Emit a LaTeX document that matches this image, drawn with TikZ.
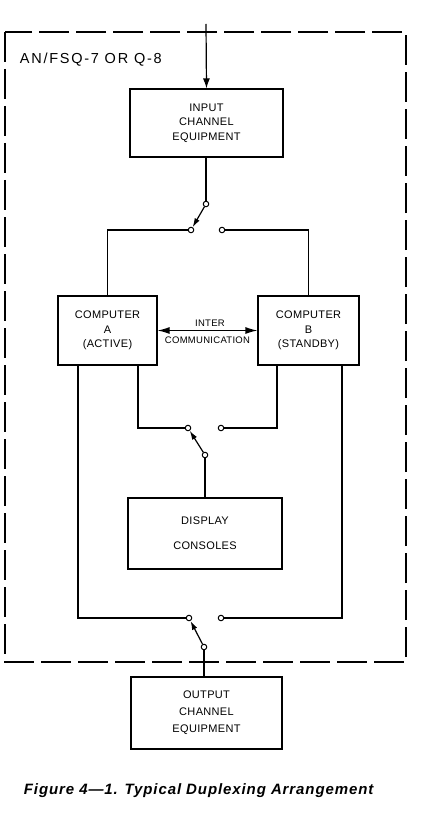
\documentclass[tikz,border=0pt]{standalone}
\usepackage{fontspec}
\setmainfont{Liberation Sans}
\newfontfamily\blokfont[LetterSpace=3]{Liberation Sans}
\newfontfamily\labelfont[LetterSpace=12]{Liberation Sans}
\newfontfamily\judulfont[LetterSpace=6]{Liberation Sans}
\usetikzlibrary{arrows.meta}
\begin{document}
\begin{tikzpicture}[x=1pt,y=-1pt,line width=1.2pt,
  blok/.style={draw, align=center, inner sep=0pt, font=\blokfont\fontsize{11}{14.5}\selectfont},
  kontak/.style={draw, circle, fill=white, inner sep=0pt, minimum size=5.5pt, line width=1pt},
  panah/.style={-{Latex[length=9pt,width=5.5pt]}},
  panahbesar/.style={-{Latex[length=10pt,width=7pt]}}]
  \useasboundingbox (0,0) rectangle (435,813);
  % bingkai putus-putus
  \draw[line width=1.9pt, dash pattern=on 30pt off 7pt] (5,32) rectangle (406,662);
  \node[right, font=\labelfont\fontsize{14.5}{16}\selectfont] (label) at (16,60) {AN/FSQ-7 OR Q-8};
  % kotak
  \node[blok, minimum width=153, minimum height=68] (masuk) at (206.5,123) {INPUT\\CHANNEL\\EQUIPMENT};
  \node[blok, minimum width=99, minimum height=69] (kompA) at (107.5,330.5) {COMPUTER\\A\\(ACTIVE)};
  \node[blok, minimum width=101, minimum height=69] (kompB) at (308.5,330.5) {COMPUTER\\B\\(STANDBY)};
  \node[blok, minimum width=154, minimum height=71, font=\blokfont\fontsize{11}{25}\selectfont] (layar) at (205,533.5) {DISPLAY\\CONSOLES};
  \node[blok, minimum width=151, minimum height=72, font=\blokfont\fontsize{11}{17}\selectfont] (keluar) at (206.5,713) {OUTPUT\\CHANNEL\\EQUIPMENT};
  % sakelar
  \node[kontak] (p1) at (206,204) {};
  \node[kontak] (a1) at (191,230) {};
  \node[kontak] (b1) at (222,230) {};
  \node[kontak] (p2) at (205,455) {};
  \node[kontak] (a2) at (188,428) {};
  \node[kontak] (b2) at (221,428) {};
  \node[kontak] (p3) at (204,647) {};
  \node[kontak] (a3) at (189,618) {};
  \node[kontak] (b3) at (221,618) {};
  \coordinate (atas) at (206,24);
  % garis
  \draw[panahbesar] (atas) -- (masuk.north);
  \draw (masuk.south -| p1) -- (p1);
  \draw[panah] (p1) -- (a1);
  \draw (a1) -| (kompA.north);
  \draw (b1) -| (kompB.north);
  \draw[{Latex[length=12pt,width=7pt]}-{Latex[length=12pt,width=7pt]}] (kompA.east) -- (kompB.west);
  \node[font=\blokfont\fontsize{9.5}{10}\selectfont] (inter) at (210,323) {INTER};
  \node[font=\blokfont\fontsize{9.5}{10}\selectfont] (komunikasi) at (207.5,340) {COMMUNICATION};
  \draw (a2) -| ([xshift=30.5]kompA.south);
  \draw (b2) -| ([xshift=-31.5]kompB.south);
  \draw[panah] (p2) -- (a2);
  \draw (p2) -- (layar.north -| p2);
  \draw (a3) -| ([xshift=-29.5]kompA.south);
  \draw (b3) -| ([xshift=33.5]kompB.south);
  \draw[panah] (p3) -- (a3);
  \draw (p3) -- (keluar.north -| p3);
  \node[right, font=\judulfont\bfseries\itshape\fontsize{15}{17}\selectfont] (judul) at (20,791) {Figure 4—1. Typical Duplexing Arrangement};
\end{tikzpicture}
\end{document}
